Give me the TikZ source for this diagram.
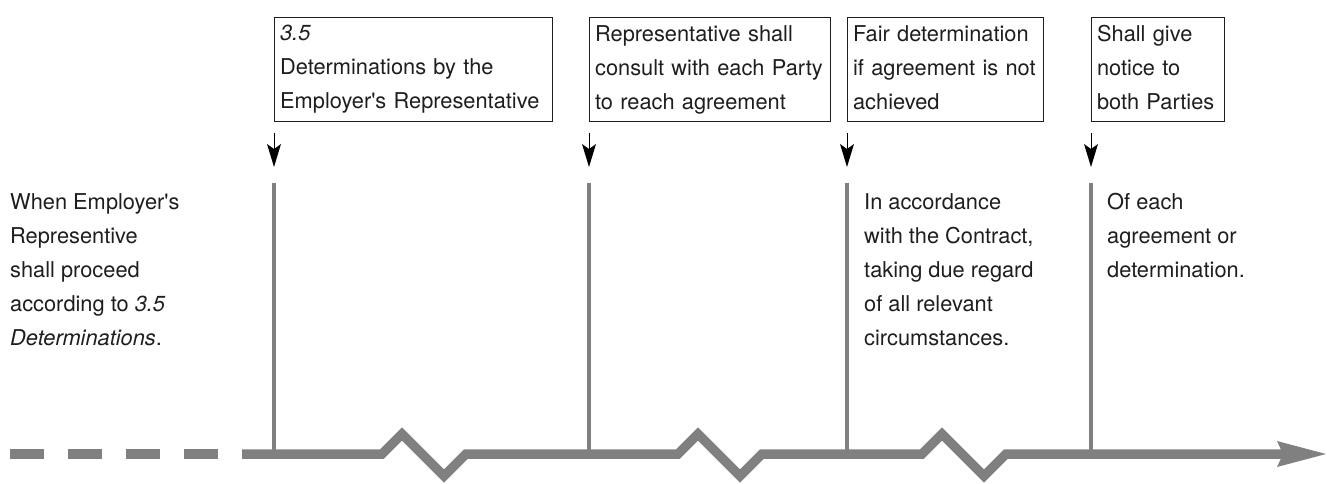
\documentclass[tikz,border=0pt]{standalone}
\usepackage{fontspec}
\setmainfont{TeX Gyre Heros}
\usetikzlibrary{arrows.meta}
\definecolor{axisgray}{RGB}{128,128,128}
\definecolor{ink}{RGB}{30,30,30}
% depth of a descender, so every box text sits alike
\newcommand{\dn}{\rule[-4.6pt]{0pt}{4.6pt}}
\newcommand{\ap}{\textquotesingle}
\begin{document}
\begin{tikzpicture}[x=1pt,y=-1pt,
  every node/.style={font=\fontsize{21.8}{34}\selectfont, text=ink},
  stepbox/.style={draw=ink, line width=1.2pt, anchor=north west,
    minimum height=104pt, inner xsep=5.5pt, inner ysep=0pt, align=left},
  note/.style={anchor=north west, inner sep=0pt, align=left},
  tick/.style={draw=axisgray, line width=4.5pt},
  pointer/.style={draw=black, line width=0.9pt,
    -{Stealth[length=23pt,width=14pt,inset=5pt,line width=0pt]}},
  axis/.style={draw=axisgray, line width=9.5pt, line join=miter}
]
\useasboundingbox (0,0) rectangle (1327,483);

% step boxes along the top
\node[stepbox, text width=267pt] (b1) at (274,17)
  {\mbox{\textit{3.5}}\\\mbox{Determinations by the}\\\mbox{Employer\ap s Representative}\dn};
\node[stepbox, text width=230pt] (b2) at (589,17)
  {\mbox{Representative shall}\\\mbox{consult with each Party}\\\mbox{to reach agreement}\dn};
\node[stepbox, text width=185pt] (b3) at (847,17)
  {\mbox{Fair determination}\\\mbox{if agreement is not}\\\mbox{achieved}\dn};
\node[stepbox, text width=122pt] (b4) at (1091,17)
  {\mbox{Shall give}\\\mbox{notice to}\\\mbox{both Parties}\dn};

% side notes
\node[note] (n0) at (10,193)
  {When Employer\ap s\\Representive\\shall proceed\\according to \textit{3.5}\\\textit{Determinations}.};
\node[note] (n3) at (864,193)
  {In accordance\\with the Contract,\\taking due regard\\of all relevant\\circumstances.};
\node[note] (n4) at (1107,193)
  {Of each\\agreement or\\determination.};

% pointers under the boxes, ticks on the axis
\foreach \i/\x in {1/274, 2/589, 3/847, 4/1091}{
  \coordinate (p\i s) at (\x,133);
  \coordinate (p\i e) at (\x,167);
  \coordinate (k\i t) at (\x,183);
  \coordinate (k\i) at (\x,454);
}
\foreach \i in {1,...,4}{
  \draw[pointer] (p\i s) -- (p\i e);
  \draw[tick] (k\i t) -- (k\i);
}

% time axis: dashed lead-in, then a broken line ending in an arrow
\coordinate (a0) at (10,454);
\coordinate (a1) at (242,454);
\coordinate (aend) at (1326,454);
\draw[axis, dash pattern=on 34pt off 24pt] (a0) -- (a1);
\draw[axis, -{Stealth[length=49pt,width=26pt,inset=6pt,line width=0pt]}]
  (a1) -- (382,454) -- ++(20,-20) -- ++(42,42) -- ++(22,-22)
       -- (678,454) -- ++(20,-20) -- ++(42,42) -- ++(22,-22)
       -- (922,454) -- ++(20,-20) -- ++(42,42) -- ++(22,-22)
       -- (aend);
\end{tikzpicture}
\end{document}
